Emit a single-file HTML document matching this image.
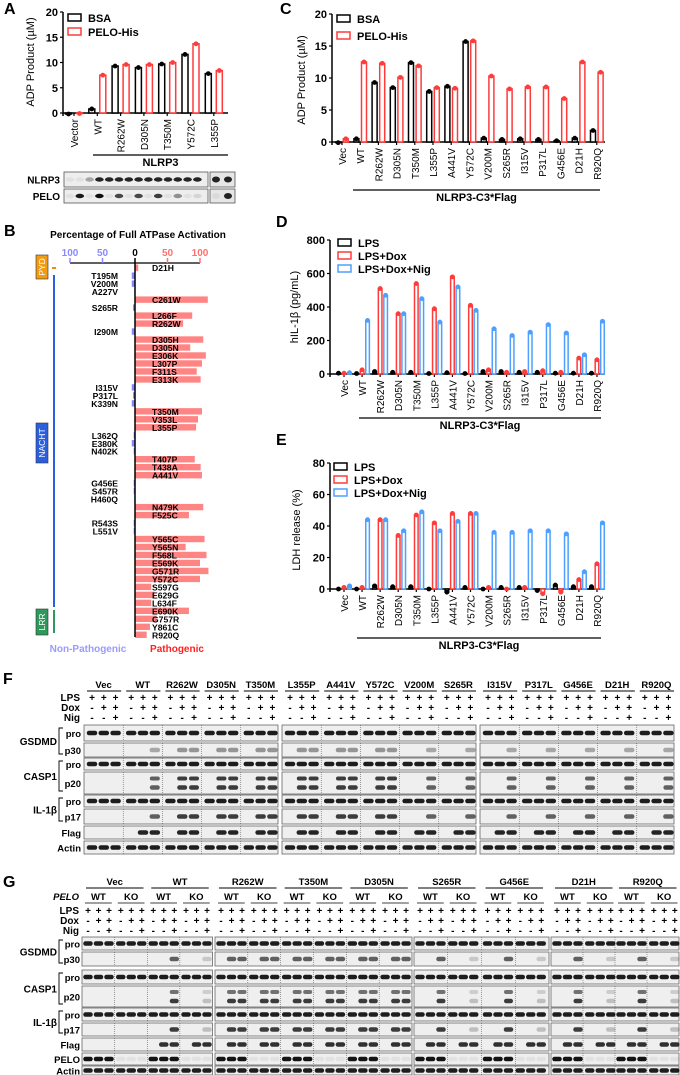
<!DOCTYPE html>
<html><head><meta charset="utf-8"><style>
html,body{margin:0;padding:0;background:#fff;}
svg{display:block;font-family:"Liberation Sans",Arial,sans-serif;font-weight:bold;}
</style></head><body>
<svg id="fig" width="680" height="1075" viewBox="0 0 680 1075" xmlns="http://www.w3.org/2000/svg"></svg>
<script>
// ---------- Panel A data ----------
const aCats = ["Vector","WT","R262W","D305N","T350M","Y572C","L355P"];
const aBSA = [-0.2,0.8,9.3,9.0,9.7,11.6,7.8];
const aPELO = [-0.1,7.5,9.6,9.6,10.0,13.7,8.4];
const aTicks = [0,5,10,15,20];
// ---------- Panel C data ----------
const cCats = ["Vec","WT","R262W","D305N","T350M","L355P","A441V","Y572C","V200M","S265R","I315V","P317L","G456E","D21H","R920Q"];
const cBSA = [-0.1,0.5,9.3,8.5,12.4,7.9,8.7,15.7,0.6,0.4,0.5,0.4,0.2,0.6,1.8];
const cPELO = [0.5,12.5,12.3,10.1,11.9,8.5,8.4,15.8,10.3,8.3,8.6,8.6,6.8,12.5,10.9];
const cTicks = [0,5,10,15,20];
// ---------- Panel D data ----------
const dCats = cCats;
const dLPS = [5,3,15,10,10,3,8,3,15,15,10,10,5,5,5];
const dDox = [5,25,510,360,540,390,580,410,25,10,15,20,10,95,85];
const dNig = [8,320,470,360,450,310,520,380,270,230,250,295,245,115,315];
const dTicks = [0,200,400,600,800];
// ---------- Panel E data ----------
const eLPS = [0,0,2,1.5,1.5,0,-2,1,0,1,1,-1,2.5,1.5,1.5];
const eDox = [1,1,44,34,47,42,48,48,1,0,1,-3,-2,6,16];
const eNig = [2,44,44,37,49,37,43,48,36,36,37,37,35,11,42];
const eTicks = [0,20,40,60,80];
// ---------- Panel B data ----------
const bLabels = ["D21H","T195M","V200M","A227V","C261W","S265R","L266F","R262W","I290M","D305H","D305N","E306K","L307P","F311S","E313K","I315V","P317L","K339N","T350M","V353L","L355P","L362Q","E380K","N402K","T407P","T438A","A441V","G456E","S457R","H460Q","N479K","F525C","R543S","L551V","Y565C","Y565N","F568L","E569K","G571R","Y572C","S597G","E629G","L634F","E690K","G757R","Y861C","R920Q"];
const bValues = [5,5,5,1,112,3,88,74,5,105,85,109,103,95,101,5,3,5,103,97,94,2,5,2,92,101,103,2,2,1,105,83,2,2,107,78,110,100,113,100,25,30,25,83,33,23,18];
const bPath = [1,0,0,0,1,0,1,1,0,1,1,1,1,1,1,0,0,0,1,1,1,0,0,0,1,1,1,0,0,0,1,1,0,0,1,1,1,1,1,1,1,1,1,1,1,1,1];
const bTicks = [-100,-50,0,50,100];

const NS="http://www.w3.org/2000/svg";
const svg=document.getElementById('fig');
function el(tag,attrs,parent){const e=document.createElementNS(NS,tag);for(const k in attrs)e.setAttribute(k,attrs[k]);(parent||svg).appendChild(e);return e;}
function txt(s,attrs,parent){const e=el('text',attrs,parent);e.textContent=s;return e;}
const RED="#ff3b3b",BLUE="#4da0ff";

[["A",4,14],["C",280,14],["B",4,236],["D",276,227],["E",276,445],["F",3,684],["G",3,887]].forEach(p=>{
  const t=txt(p[0],{x:p[1],y:p[2],"font-size":16});
  
  
});

function barChart(o){
  const g=el('g',{});
  
  
  const y=v=>o.y0-(v-o.tmin)/(o.tmax-o.tmin)*(o.y0-o.y1);
  const xc=i=>o.x0+i*o.step;
  const ax=el('line',{x1:o.ax,y1:o.y1,x2:o.ax,y2:o.y0+3,stroke:"#000","stroke-width":1.5},g);
  
  
  const bx=el('line',{x1:o.ax,y1:y(0),x2:o.xend,y2:y(0),stroke:"#000","stroke-width":1.5},g);
  
  
  o.ticks.forEach(t=>{
    el('line',{x1:o.ax-3,y1:y(t),x2:o.ax,y2:y(t),stroke:"#000","stroke-width":1.2},g);
    const tl=txt(String(t),{x:o.ax-5,y:y(t)+4,"font-size":11,"text-anchor":"end"},g);
    
    
  });
  const yt=txt(o.ytitle,{x:o.ytx,y:o.yty,"font-size":11,"text-anchor":"middle",transform:`rotate(-90 ${o.ytx} ${o.yty})`,"font-weight":"normal"},g);
  
  
  o.cats.forEach((c,i)=>{
    el('line',{x1:xc(i),y1:y(0),x2:xc(i),y2:y(0)+3,stroke:"#000","stroke-width":1.2},g);
    const tl=txt(c,{x:xc(i)+4,y:y(0)+6,"font-size":o.fs||10,"text-anchor":"end","font-weight":"normal",transform:`rotate(-90 ${xc(i)+4} ${y(0)+6})`},g);
    
    
  });
  o.series.forEach((s,si)=>{
    s.vals.forEach((v,i)=>{
      const x=xc(i)+s.off, yt=Math.min(y(v),y(0)), h=Math.abs(y(v)-y(0));
      const r=el('rect',{x:x-o.bw/2,y:yt,width:o.bw,height:h,fill:"#fff",stroke:s.color,"stroke-width":1.5},g);
      
      
      const d=el('circle',{cx:x,cy:y(v),r:2.4,fill:s.color},g);
      
      
    });
  });
  o.series.forEach((s,si)=>{
    const ly=o.ly+si*o.lstep;
    el('rect',{x:o.lx,y:ly,width:13,height:7,fill:"#fff",stroke:s.color,"stroke-width":1.5},g);
    const lt=txt(s.label,{x:o.lx+20,y:ly+8,"font-size":11},g);
    
    
  });
  el('line',{x1:o.ux1,y1:o.uy,x2:o.ux2,y2:o.uy,stroke:"#000","stroke-width":1.3},g);
  const gt=txt(o.group,{x:(o.ux1+o.ux2)/2,y:o.uy+11,"font-size":11,"text-anchor":"middle"},g);
  
  
}

barChart({name:"panel-a-chart",cats:aCats,ax:63,x0:74,step:23.3,bw:6,y0:113,y1:12,tmin:0,tmax:20,ticks:aTicks,xend:228,
  ytitle:"ADP Product (µM)",ytx:34,yty:62,series:[{key:"bsa",label:"BSA",vals:aBSA,color:"#000",off:-5.5},{key:"pelo",label:"PELO-His",vals:aPELO,color:RED,off:5.5}],
  lx:68,ly:14,lstep:14,ux1:93,ux2:228,uy:155,group:"NLRP3",fs:10});
barChart({name:"panel-c-chart",cats:cCats,ax:332,x0:342,step:18.2,bw:5,y0:142,y1:14,tmin:0,tmax:20,ticks:cTicks,xend:605,
  ytitle:"ADP Product (µM)",ytx:305,yty:80,series:[{key:"bsa",label:"BSA",vals:cBSA,color:"#000",off:-3.8},{key:"pelo",label:"PELO-His",vals:cPELO,color:RED,off:3.8}],
  lx:337,ly:15,lstep:17,ux1:353,ux2:600,uy:190,group:"NLRP3-C3*Flag",fs:10});
barChart({name:"panel-d-chart",cats:dCats,ax:330,x0:344,step:18.07,bw:3.6,y0:374,y1:240,tmin:0,tmax:800,ticks:dTicks,xend:605,
  ytitle:"hIL-1β (pg/mL)",ytx:298,yty:307,series:[{key:"lps",label:"LPS",vals:dLPS,color:"#000",off:-5.5},{key:"dox",label:"LPS+Dox",vals:dDox,color:RED,off:0},{key:"nig",label:"LPS+Dox+Nig",vals:dNig,color:BLUE,off:5.5}],
  lx:338,ly:239,lstep:13,ux1:359,ux2:601,uy:418,group:"NLRP3-C3*Flag",fs:10});
barChart({name:"panel-e-chart",cats:dCats,ax:330,x0:344,step:18.07,bw:3.6,y0:589,y1:463,tmin:0,tmax:80,ticks:eTicks,xend:605,
  ytitle:"LDH release (%)",ytx:300,yty:530,series:[{key:"lps",label:"LPS",vals:eLPS,color:"#000",off:-5.5},{key:"dox",label:"LPS+Dox",vals:eDox,color:RED,off:0},{key:"nig",label:"LPS+Dox+Nig",vals:eNig,color:BLUE,off:5.5}],
  lx:334,ly:463,lstep:13,ux1:357,ux2:601,uy:638,group:"NLRP3-C3*Flag",fs:10});

// ---------- Panel B ----------
(function(){
  const g=el('g',{});
  
  
  const xz=135, k=0.65, yr=i=>268+i*7.98;
  const xs=v=>xz+v*k;
  const t=txt("Percentage of Full ATPase Activation",{x:138,y:238,"font-size":10,"text-anchor":"middle"},g);
  
  
  el('line',{x1:xs(-100),y1:263,x2:xs(100),y2:263,stroke:"#000","stroke-width":1.3},g);
  bTicks.forEach(v=>{
    const col=v<0?"#8a8aff":(v>0?"#ff7070":"#000");
    el('line',{x1:xs(v),y1:258,x2:xs(v),y2:263,stroke:v===0?"#000":col,"stroke-width":1.5},g);
    const tl=txt(String(Math.abs(v)),{x:xs(v),y:256,"font-size":10,fill:col,"text-anchor":"middle"},g);
    
    
  });
  bLabels.forEach((lab,i)=>{
    const v=bValues[i], p=bPath[i], y=yr(i);
    const r=el('rect',{x:p?xz:xs(-v),y:y-3.5,width:v*k,height:6.4,fill:p?"#ff8585":"#8585ff"},g);
    
    
    const tl=txt(lab,{x:p?152:118,y:y+3.2,"font-size":8.6,"text-anchor":p?"start":"end"},g);
    
    
  });
  el('line',{x1:xz,y1:263,x2:xz,y2:637,stroke:"#000","stroke-width":1.5},g);
  el('line',{x1:54,y1:275,x2:54,y2:607,stroke:"#2a5fe0","stroke-width":2},g);
  el('line',{x1:54,y1:610,x2:54,y2:633,stroke:"#2e9a5a","stroke-width":2},g);
  el('line',{x1:52,y1:268,x2:56,y2:268,stroke:"#f08a10","stroke-width":2},g);
  [["PYD",255,24,"#f39b12","pyd-domain"],["NACHT",423,40,"#2a5fe0","nacht-domain"],["LRR",609,26,"#2e9a5a","lrr-domain"]].forEach(d=>{
    const r=el('rect',{x:36,y:d[1],width:12,height:d[2],fill:d[3],stroke:"#333","stroke-width":0.6},g);
    
    
    const cy=d[1]+d[2]/2;
    txt(d[0],{x:42,y:cy+3,"font-size":8.5,fill:"#fff","text-anchor":"middle","font-weight":"normal",transform:`rotate(-90 42 ${cy})`},g);
  });
  const n=txt("Non-Pathogenic",{x:88,y:652,"font-size":10,fill:"#9a9aff","text-anchor":"middle"},g);
  
  
  const p=txt("Pathogenic",{x:177,y:652,"font-size":10,fill:"#ff2020","text-anchor":"middle"},g);
  
  
})();

// ---------- Panel A blot ----------
(function(){
  const g=el('g',{});
  
  
  [["NLRP3",172,187],["PELO",189,203]].forEach((r,ri)=>{
    txt(r[0],{x:60,y:(r[1]+r[2])/2+4,"font-size":10,"text-anchor":"end"},g);
    el('rect',{x:64,y:r[1],width:144,height:r[2]-r[1],fill:"#eee",stroke:"#555","stroke-width":0.8},g);
    el('rect',{x:210,y:r[1],width:25,height:r[2]-r[1],fill:"#e6e6e6",stroke:"#555","stroke-width":0.8},g);
    for(let l=0;l<14;l++){
      const x=70+l*9.8, my=(r[1]+r[2])/2;
      let op = ri===0 ? (l<2?0.05:(l<3?0.3:0.85)) : ((l%2===1)?[0.9,0.95,0.7,0.7,0.75,0.4,0.1][Math.floor(l/2)]:0.05);
      el('ellipse',{cx:x,cy:my,rx:4.3,ry:2.2,fill:"#000",opacity:op},g);
    }
    el('ellipse',{cx:216,cy:(r[1]+r[2])/2,rx:4,ry:3,fill:"#000",opacity:ri===0?0.85:0.05},g);
    el('ellipse',{cx:228,cy:(r[1]+r[2])/2,rx:4,ry:3,fill:"#000",opacity:0.85},g);
  });
})();

function band(g,x,y,w,h,op){ if(op<=0.02)return; el('rect',{x:x-w/2,y:y-h/2,width:w,height:h,rx:h/2,fill:"#000",opacity:op},g); }

// ---------- Panel F ----------
(function(){
  const g=el('g',{});
  
  
  const groups=["Vec","WT","R262W","D305N","T350M","L355P","A441V","Y572C","V200M","S265R","I315V","P317L","G456E","D21H","R920Q"];
  const patho=["R262W","D305N","T350M","L355P","A441V","Y572C"];
  const boxes=[84,282,480], bw=196, gw=bw/5;
  const rows=[["pro",725,741],["p30",743,757],["pro",758,770],["p20",772,794],["pro",795,807],["p17",809,824],["Flag",826,839],["Actin",841,854]];
  const lx=(gi,l)=>boxes[Math.floor(gi/5)]+(gi%5)*gw+8+l*11.8;
  groups.forEach((gn,gi)=>{
    const x0=boxes[Math.floor(gi/5)]+(gi%5)*gw;
    const t=txt(gn,{x:x0+gw/2,y:688,"font-size":9.5,"text-anchor":"middle"},g);
    
    
    el('line',{x1:x0+3,y1:691,x2:x0+gw-2,y2:691,stroke:"#000","stroke-width":0.9},g);
    for(let l=0;l<3;l++){
      const x=lx(gi,l);
      txt("+",{x,y:701,"font-size":10,"text-anchor":"middle"},g);
      txt(l===0?"-":"+",{x,y:711,"font-size":10,"text-anchor":"middle"},g);
      txt(l===2?"+":"-",{x,y:721,"font-size":10,"text-anchor":"middle"},g);
    }
  });
  [["LPS",701],["Dox",711],["Nig",721]].forEach(r=>txt(r[0],{x:80,y:r[1],"font-size":10,"text-anchor":"end"},g));
  rows.forEach(r=>{
    boxes.forEach(bx=>{
      el('rect',{x:bx,y:r[1],width:bw-2,height:r[2]-r[1],fill:"#efefef",stroke:"#666","stroke-width":0.8},g);
      for(let k=1;k<5;k++) el('line',{x1:bx+k*gw,y1:r[1],x2:bx+k*gw,y2:r[2],stroke:"#444","stroke-width":0.5,"stroke-dasharray":"1,1"},g);
    });
    txt(r[0],{x:81,y:(r[1]+r[2])/2+4,"font-size":9.5,"text-anchor":"end"},g);
    groups.forEach((gn,gi)=>{
      const isP=patho.includes(gn), vec=gn==="Vec";
      for(let l=0;l<3;l++){
        const x=lx(gi,l), my=(r[1]+r[2])/2;
        let op=0;
        if(r[0]==="pro"||r[0]==="Actin") op=0.88;
        else if(r[0]==="Flag") op=(vec||l===0)?0:0.85;
        else { op = vec?0:(isP?(l>0?0.75:0):(l===2?0.6:0)); if(r[0]==="p30") op*=0.5; }
        if(r[0]==="p20"){ band(g,x,my-4.5,10,4,op); band(g,x,my+4.5,10,4.5,op); }
        else band(g,x,my,10.5,4.5,op);
      }
    });
  });
  [["GSDMD",725,757],["CASP1",758,794],["IL-1β",795,824]].forEach(b=>{
    txt(b[0],{x:57,y:(b[1]+b[2])/2+4,"font-size":10,"text-anchor":"end"},g);
    el('path',{d:`M63 ${b[1]+3} H59 V${b[2]-3} H63`,fill:"none",stroke:"#000","stroke-width":0.9},g);
  });
})();

// ---------- Panel G ----------
(function(){
  const g=el('g',{});
  
  
  const groups=["Vec","WT","R262W","T350M","D305N","S265R","G456E","D21H","R920Q"];
  const patho=["R262W","T350M","D305N"];
  const boxes=[[82,212.5,0,2],[215,412,2,5],[414,549,5,7],[551,679,7,9]];
  const gw=65.5;
  const gx=gi=>{for(const b of boxes){if(gi>=b[2]&&gi<b[3])return b[0]+(gi-b[2])*((b[1]-b[0])/(b[3]-b[2]));}};
  const lx=(gi,s,l)=>gx(gi)+s*gw/2+6+l*10.5;
  const rows=[["pro",937,950],["p30",952,966],["pro",970,984],["p20",986,1007],["pro",1008,1021],["p17",1023,1036],["Flag",1038,1051],["PELO",1053,1065],["Actin",1066,1075]];
  groups.forEach((gn,gi)=>{
    const x0=gx(gi);
    const t=txt(gn,{x:x0+gw/2,y:885,"font-size":9.5,"text-anchor":"middle"},g);
    
    
    el('line',{x1:x0+4,y1:888,x2:x0+gw-4,y2:888,stroke:"#000","stroke-width":0.9},g);
    ["WT","KO"].forEach((s,si)=>{
      const sx=x0+si*gw/2;
      txt(s,{x:sx+gw/4,y:900,"font-size":9.5,"text-anchor":"middle"},g);
      el('line',{x1:sx+3,y1:903,x2:sx+gw/2-3,y2:903,stroke:"#000","stroke-width":0.8},g);
      for(let l=0;l<3;l++){
        const x=lx(gi,si,l);
        txt("+",{x,y:914,"font-size":10,"text-anchor":"middle"},g);
        txt(l===0?"-":"+",{x,y:924,"font-size":10,"text-anchor":"middle"},g);
        txt(l===2?"+":"-",{x,y:934,"font-size":10,"text-anchor":"middle"},g);
      }
    });
  });
  const pl=txt("PELO",{x:79,y:900,"font-size":9.5,"text-anchor":"end","font-style":"italic"},g);
  
  
  [["LPS",914],["Dox",924],["Nig",934]].forEach(r=>txt(r[0],{x:79,y:r[1],"font-size":10,"text-anchor":"end"},g));
  rows.forEach(r=>{
    boxes.forEach(b=>{
      el('rect',{x:b[0],y:r[1],width:b[1]-b[0],height:r[2]-r[1],fill:"#efefef",stroke:"#666","stroke-width":0.8},g);
      const n=(b[3]-b[2])*2, w=(b[1]-b[0])/n;
      for(let k=1;k<n;k++) el('line',{x1:b[0]+k*w,y1:r[1],x2:b[0]+k*w,y2:r[2],stroke:"#444","stroke-width":0.5,"stroke-dasharray":"1,1"},g);
    });
    txt(r[0],{x:80,y:(r[1]+r[2])/2+4,"font-size":9.5,"text-anchor":"end"},g);
    groups.forEach((gn,gi)=>{
      const isP=patho.includes(gn), vec=gn==="Vec";
      for(let s=0;s<2;s++)for(let l=0;l<3;l++){
        const x=lx(gi,s,l), my=(r[1]+r[2])/2;
        let op=0;
        if(r[0]==="pro"||r[0]==="Actin") op=0.88;
        else if(r[0]==="PELO") op=(s===0)?0.92:0.05;
        else if(r[0]==="Flag") op=(vec||l===0)?0:0.8;
        else { op = vec?0:(isP?(l>0?0.75:0):(l===2?(s===0?0.75:0.2):0)); if(r[0]==="p30") op*=0.8; }
        if(r[0]==="p20"){ band(g,x,my-4.5,9,4,op*0.7); band(g,x,my+4.5,9,4.5,op); }
        else band(g,x,my,9.5,4.5,op);
      }
    });
  });
  [["GSDMD",937,966],["CASP1",970,1007],["IL-1β",1008,1036]].forEach(b=>{
    txt(b[0],{x:57,y:(b[1]+b[2])/2+4,"font-size":10,"text-anchor":"end"},g);
    el('path',{d:`M63 ${b[1]+3} H59 V${b[2]-3} H63`,fill:"none",stroke:"#000","stroke-width":0.9},g);
  });
})();
</script>
</body></html>
